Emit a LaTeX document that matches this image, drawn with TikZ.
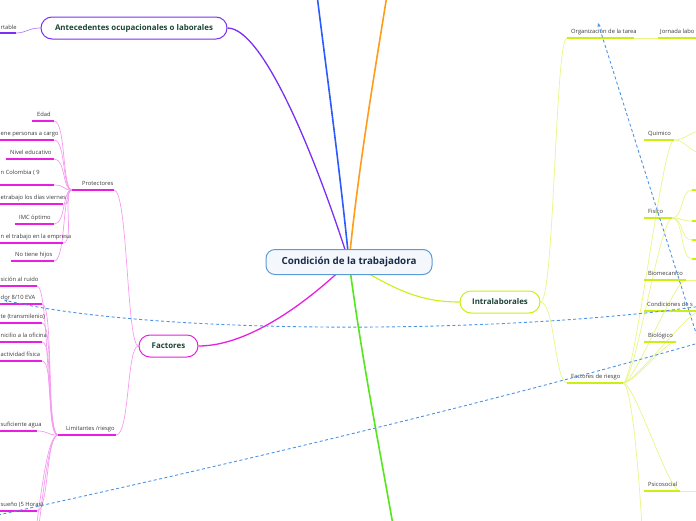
\documentclass[tikz,border=0pt]{standalone}
\usepackage{fontspec}
\setmainfont{Open Sans}
\usetikzlibrary{positioning,arrows.meta,backgrounds}
\definecolor{rootline}{HTML}{5B9BD5}
\definecolor{rootfill}{HTML}{F4F8FD}
\definecolor{rootink}{HTML}{1B2A4A}
\definecolor{topink}{HTML}{1C4536}
\definecolor{leafink}{HTML}{3A3A3A}
\definecolor{purp}{HTML}{7B2FF2}
\definecolor{bluel}{HTML}{2A5BFF}
\definecolor{orng}{HTML}{FF9C1A}
\definecolor{grn}{HTML}{55E61E}
\definecolor{mag}{HTML}{E81EE0}
\definecolor{magl}{HTML}{F59BF0}
\definecolor{lime}{HTML}{CDEE12}
\definecolor{limel}{HTML}{E9F585}
\definecolor{rel}{HTML}{4B93E6}

\begin{document}
\begin{tikzpicture}[x=1pt,y=-1pt,
  root/.style={draw=rootline,fill=rootfill,line width=1pt,rounded corners=9pt,minimum width=166pt,minimum height=25pt,font=\fontsize{9.8}{11}\selectfont\bfseries,text=rootink},
  topic/.style={draw=#1,fill=white,line width=1pt,rounded corners=11pt,minimum height=22pt,font=\fontsize{7.9}{9}\selectfont\bfseries,text=topink},
  sub/.style={font=\fontsize{5.8}{7}\selectfont,text=leafink,inner sep=0pt,anchor=base west},
  uline/.style={draw=#1,line width=1.6pt},
  twig/.style={draw=#1,line width=0.7pt},
  branch/.style={draw=#1,line width=1.6pt},
  rel/.style={draw=rel,line width=0.9pt,dash pattern=on 3pt off 2.5pt}]
  \useasboundingbox (0,0) rectangle (696,520);
  \clip (0,0) rectangle (696,520);

  % main topics
  \node[root] (root) at (349,262) {Condición de la trabajadora};
  \node[topic=purp,minimum width=186pt] (antec) at (134,28) {Antecedentes ocupacionales o laborales};
  \node[topic=mag,minimum width=59pt] (factores) at (168.5,346) {Factores};
  \node[topic=lime,minimum width=80pt] (intra) at (500,302) {Intralaborales};

  % ---------------- left: antecedentes ----------------
  \draw[uline=purp] (0,33) -- (16,33) coordinate (ante1);
  \node[sub] at (0.5,29.7) {rtable};

  % ---------------- left: factores / protectores ----------------
  \draw[uline=mag] (72,190) coordinate (protL) -- (114,190) coordinate (protR);
  \node[sub] at (82,185.5) {Protectores};
  \foreach \a/\b/\y [count=\i] in {32/54/121,0/54/140,6/54/159,0/54/185,0/63/204,15/54/224,0/63/243,11/54/261}
    \draw[uline=mag] (\a,\y) -- (\b,\y) coordinate (pr\i);
  \node[sub] at (37,116.5) {Edad};
  \node[sub] at (0.5,135.5) {ene personas a cargo};
  \node[sub] at (10,154.5) {Nivel educativo};
  \node[sub] at (0.5,174) {n Colombia ( 9};
  \node[sub] at (0.5,199.5) {etrabajo los días viernes};
  \node[sub] at (19,219.5) {IMC óptimo};
  \node[sub] at (0.5,238.5) {n el trabajo en la empresa};
  \node[sub] at (15,256.5) {No tiene hijos};

  % ---------------- left: factores / limitantes ----------------
  \draw[uline=mag] (58,435) coordinate (limL) -- (116,435) coordinate (limR);
  \node[sub] at (66,430.5) {Limitantes /riesgo};
  \foreach \b/\y [count=\i] in {37/286,42/304,42/323,42/342,42/361,37/431,37/511}
    \draw[uline=mag] (0,\y) -- (\b,\y) coordinate (li\i);
  \coordinate (li8) at (34,545);
  \coordinate (li9) at (34,565);
  \node[sub] at (0.5,281.5) {sición al ruido};
  \node[sub] at (0.5,299.5) {dor 8/10 EVA};
  \node[sub] at (0.5,318.5) {te (transmilenio)};
  \node[sub] at (0.5,337.5) {nicilio a la oficina};
  \node[sub] at (0.5,356.5) {actividad física};
  \node[sub] at (0.5,426.5) {suficiente agua};
  \node[sub] at (0.5,506.5) {sueño (5 Horas)};

  % ---------------- right: intralaborales ----------------
  \draw[uline=lime] (567,38) coordinate (orgL) -- (634,38) coordinate (orgR);
  \node[sub] at (571,33.5) {Organización de la tarea};
  \draw[uline=lime] (658,38) coordinate (jorL) -- (700,38);
  \node[sub] at (660,33.5) {Jornada labo};
  \draw[uline=lime] (567,383) coordinate (frL) -- (623,383) coordinate (frR);
  \node[sub] at (571,378.5) {Factores de riesgo};
  \foreach \b/\y [count=\i] in {674/140,672/218,686/280,700/311,676/342,680/491}
    \draw[uline=lime] (644,\y) -- (\b,\y) coordinate (fr\i);
  \coordinate (fr7) at (644,570);
  \node[sub] at (648,135.5) {Quimico};
  \node[sub] at (648,213.5) {Fisico};
  \node[sub] at (648,275.5) {Biomecanico};
  \node[sub] at (647,306.5) {Condiciones de s};
  \node[sub] at (648,337.5) {Biológico};
  \node[sub] at (648,486.5) {Psicosocial};
  \foreach \y [count=\i] in {190,221,240,259}
    \draw[uline=lime] (692,\y) coordinate (fi\i) -- (700,\y);
  \coordinate (qu1) at (702,131);
  \coordinate (qu2) at (702,153);
  \coordinate (bm1) at (700,280);
  \coordinate (ps1) at (700,491);

  % relationships (free ends run out of the frame)
  \coordinate (r1a) at (4,300);  \coordinate (r1b) at (702,306);
  \coordinate (r2a) at (598,23); \coordinate (r2b) at (702,352);
  \coordinate (r3a) at (-2,515); \coordinate (r3b) at (702,342);
  \coordinate (bl1) at (317,-5); \coordinate (or1) at (387,-5); \coordinate (gr1) at (393,525);

  \begin{scope}[on background layer]
    \draw[branch=purp,line width=1.3pt] (root.center) .. controls (320,170) and (265,28) .. (antec.east);
    \draw[branch=bluel] (root.center) .. controls (340,170) and (325,60) .. (bl1);
    \draw[branch=orng] (root.center) .. controls (358,170) and (375,70) .. (or1);
    \draw[branch=grn] (root.center) .. controls (362,360) and (378,440) .. (gr1);
    \draw[branch=mag,line width=1.3pt] (root.center) .. controls (310,300) and (250,346) .. (factores.east);
    \draw[branch=lime,line width=1.1pt] (root.center) .. controls (395,290) and (420,302) .. (intra.west);

    \draw[twig=purp!60] (antec.west) .. controls +(-12,0) and +(10,0) .. (ante1);
    \draw[twig=magl] (factores.west) .. controls +(-12,0) and +(14,0) .. (protR);
    \draw[twig=magl] (factores.west) .. controls +(-12,0) and +(14,0) .. (limR);
    \foreach \i in {1,...,8} \draw[twig=magl] (pr\i) .. controls +(12,0) and +(-10,0) .. (protL);
    \foreach \i in {1,...,7} \draw[twig=magl] (li\i) .. controls +(12,0) and +(-12,0) .. (limL);
    \foreach \i in {8,9} \draw[twig=magl] (limL) .. controls +(-10,0) and +(8,-60) .. (li\i);

    \draw[twig=limel] (intra.east) .. controls +(14,0) and +(-12,0) .. (orgL);
    \draw[twig=limel] (intra.east) .. controls +(14,0) and +(-12,0) .. (frL);
    \draw[twig=limel] (orgR) -- (jorL);
    \foreach \i in {1,...,6} \draw[twig=limel] (frR) .. controls +(12,0) and +(-12,0) .. (fr\i);
    \draw[twig=limel] (frR) .. controls +(10,0) and +(-2,-60) .. (fr7);
    \foreach \q in {qu1,qu2} \draw[twig=limel] (fr1) .. controls +(12,0) and +(-12,0) .. (\q);
    \foreach \i in {1,...,4} \draw[twig=limel] (fr2) .. controls +(12,0) and +(-12,0) .. (fi\i);
    \draw[twig=limel] (fr3) -- (bm1);
    \draw[twig=limel] (fr6) -- (ps1);
  \end{scope}

  \draw[rel,-{Stealth[length=4pt,width=3.5pt]}] (r1b) .. controls (500,335) and (150,335) .. (r1a);
  \draw[rel,-{Stealth[length=4pt,width=3.5pt]}] (r2b) -- (r2a);
  \draw[rel] (r3a) .. controls (250,460) and (500,400) .. (r3b);
\end{tikzpicture}
\end{document}
